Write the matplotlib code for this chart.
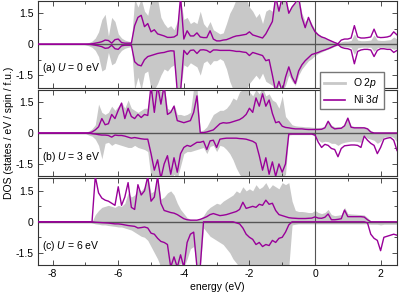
import numpy as np
import matplotlib
matplotlib.use("Agg")
import matplotlib.pyplot as plt
from matplotlib.ticker import MultipleLocator, FuncFormatter
from matplotlib.lines import Line2D

plt.rcParams['font.family'] = ['Liberation Sans', 'DejaVu Sans']
plt.rcParams['font.size'] = 7.5
plt.rcParams['mathtext.fontset'] = 'custom'
plt.rcParams['mathtext.rm'] = 'Liberation Sans'
plt.rcParams['mathtext.it'] = 'Liberation Sans:italic'
plt.rcParams['axes.unicode_minus'] = False

PURPLE = '#990099'
GREY = '#c8c8c8'
DARK = '#555555'

# energy grid (eV), 0.1 eV step
energy = np.round(np.arange(-8.5, 2.55, 0.1), 2)
pad = [0.0] * 15  # -8.5 .. -7.1 eV : no states

# values below start at -7.0 eV, 10 per line (one eV per line)
# (a) U = 0 eV
o2p_up_a = pad + [
    0.03, 0.08, 0.15, 0.3, 0.6, 1.2, 1.45, 0.4, 1.3, 1.1,
    0.5, 0.3, 0.2, 0.15, 0.12, 2.2, 1.8, 2.2, 1.6, 1.4,
    2.2, 2.2, 2.2, 1.3, 1.0, 0.8, 0.9, 0.7, 1.1, 2.2,
    1.2, 1.3, 1.0, 1.1, 1.0, 1.6, 1.0, 0.8, 1.1, 0.7,
    0.6, 0.5, 0.55, 1.0, 1.5, 1.8, 2.2, 2.2, 2.2, 2.2,
    1.8, 1.6, 1.3, 1.5, 1.0, 1.6, 1.7, 1.6, 2.3, 1.7,
    2.3, 2.3, 1.6, 1.9, 2.0, 2.3, 1.5, 1.1, 1.3, 1.0,
    0.7, 0.5, 0.4, 0.32, 0.25, 0.18, 0.1, 0.05, 0.12, 0.15,
    0.15, 0.18, 0.5, 0.2, 0.17, 0.17, 0.18, 0.2, 0.45, 0.2,
    0.18, 0.18, 0.2, 0.22, 0.35, 0.25]
o2p_dn_a = pad + [
    -0.03, -0.08, -0.15, -0.3, -0.6, -1.3, -1.2, -0.4, -1.0, -0.9,
    -0.5, -0.3, -0.2, -0.15, -0.12, -2.2, -1.6, -2.2, -1.4, -1.3,
    -2.2, -2.2, -1.9, -1.5, -1.2, -1.3, -1.1, -1.0, -2.2, -2.2,
    -1.0, -1.1, -0.9, -1.0, -1.1, -1.5, -0.9, -0.8, -1.0, -0.8,
    -0.8, -0.7, -0.8, -1.2, -1.8, -2.2, -2.2, -2.2, -2.2, -2.2,
    -1.9, -1.7, -1.5, -1.7, -1.4, -1.8, -1.9, -2.0, -2.3, -2.0,
    -2.3, -2.0, -1.5, -1.8, -2.0, -1.5, -1.2, -1.0, -0.8, -0.7,
    -0.55, -0.45, -0.38, -0.3, -0.24, -0.18, -0.1, -0.05, -0.1, -0.12,
    -0.13, -0.15, -0.5, -0.18, -0.15, -0.14, -0.15, -0.15, -0.35, -0.17,
    -0.15, -0.15, -0.17, -0.17, -0.25, -0.2]
ni3d_up_a = pad + [
    0, 0, 0.02, 0.05, 0.08, 0.12, 0.2, 0.18, 0.05, 0.22,
    0.25, 0.08, 0.05, 0.05, 0.05, 0.9, 1.3, 1.4, 0.85, 1.0,
    0.6, 0.7, 0.5, 0.45, 0.4, 0.33, 0.33, 0.35, 0.45, 2.3,
    0.25, 0.65, 0.4, 0.4, 0.55, 0.35, 0.32, 0.32, 0.65, 0.25,
    0.16, 0.16, 0.2, 0.22, 0.28, 0.35, 0.4, 0.42, 0.45, 0.48,
    0.6, 0.45, 0.4, 0.35, 0.3, 0.5, 0.8, 1.1, 2.3, 1.6,
    2.3, 2.3, 1.5, 1.8, 2.0, 2.3, 1.3, 0.8, 1.3, 0.9,
    0.6, 0.45, 0.35, 0.3, 0.22, 0.15, 0.08, 0.02, 0.2, 0.25,
    0.25, 0.3, 0.9, 0.35, 0.3, 0.3, 0.32, 0.35, 0.73, 0.35,
    0.32, 0.33, 0.35, 0.4, 0.6, 0.45]
ni3d_dn_a = pad + [
    0, 0, -0.02, -0.05, -0.08, -0.12, -0.2, -0.18, -0.05, -0.22,
    -0.25, -0.08, -0.05, -0.05, -0.05, -0.85, -1.0, -1.05, -0.75, -0.6,
    -0.55, -0.5, -0.45, -0.42, -0.4, -0.35, -0.32, -0.33, -2.3, -2.3,
    -0.3, -0.5, -0.3, -0.28, -0.45, -0.28, -0.27, -0.3, -0.4, -0.28,
    -0.28, -0.3, -0.3, -0.3, -0.3, -0.32, -0.35, -0.35, -0.38, -0.4,
    -0.55, -0.4, -0.45, -0.5, -0.55, -0.8, -0.75, -1.5, -2.3, -1.8,
    -2.3, -1.6, -1.1, -1.6, -1.9, -1.3, -1.0, -0.8, -0.65, -0.5,
    -0.45, -0.4, -0.33, -0.28, -0.22, -0.15, -0.08, -0.02, -0.15, -0.2,
    -0.22, -0.28, -0.95, -0.35, -0.28, -0.25, -0.25, -0.28, -0.6, -0.3,
    -0.22, -0.22, -0.25, -0.25, -0.4, -0.3]

# (b) U = 3 eV
o2p_up_b = pad + [
    0.02, 0.1, 0.2, 0.4, 1.4, 1.0, 0.9, 1.0, 1.3, 1.1,
    1.3, 1.5, 1.2, 1.6, 1.2, 1.1, 1.0, 1.1, 1.2, 1.2,
    2.3, 2.3, 2.3, 2.0, 2.3, 1.2, 1.1, 1.4, 0.9, 0.9,
    0.85, 0.9, 1.0, 2.2, 2.2, 0.1, 0.15, 0.3, 0.6, 0.9,
    1.0, 1.1, 1.1, 1.2, 1.4, 1.7, 1.6, 2.0, 2.1, 2.2,
    2.0, 1.8, 2.1, 1.9, 2.2, 1.8, 1.9, 1.6, 1.5, 1.2,
    1.8, 0.8, 0.6, 0.4, 0.35, 0.33, 0.32, 0.3, 0.3, 0.28,
    0.27, 0.27, 0.28, 0.32, 0.62, 0.38, 0.3, 0.3, 0.3, 0.42,
    0.78, 0.35, 0.32, 0.32, 0.32, 0.3, 0.26, 0.1, 0.05, 0.04,
    0.04, 0.04, 0.04, 0.04, 0.04, 0.04]
o2p_dn_b = pad + [
    -0.02, -0.1, -0.15, -0.3, -0.6, -1.25, -0.5, -0.45, -0.6, -0.5,
    -0.55, -0.6, -0.65, -0.7, -0.7, -0.6, -0.7, -0.75, -0.8, -0.9,
    -2.2, -2.2, -2.2, -2.2, -2.2, -2.2, -2.2, -2.0, -2.2, -1.6,
    -1.0, -0.9, -0.9, -0.85, -0.8, -0.75, -0.7, -1.0, -0.65, -0.6,
    -0.9, -0.6, -0.65, -0.8, -1.0, -1.3, -1.7, -2.0, -2.2, -2.2,
    -2.2, -2.2, -2.2, -2.2, -2.2, -2.2, -2.2, -2.2, -2.2, -2.2,
    -2.2, -2.0, -0.1, -0.08, -0.08, -0.08, -0.08, -0.08, -0.08, -0.08,
    -0.15, -0.35, -0.45, -0.4, -0.42, -0.5, -0.5, -0.6, -0.5, -0.45,
    -0.42, -0.4, -0.4, -0.42, -0.45, -0.12, -0.25, -0.3, -0.35, -0.5,
    -0.4, -0.2, -0.18, -0.15, -0.22, -0.45]
ni3d_up_b = pad + [
    0, 0, 0.05, 0.15, 0.3, 0.7, 0.4, 0.45, 0.9, 0.7,
    1.1, 1.45, 0.7, 1.2, 0.8, 0.7, 0.9, 0.75, 0.9, 0.85,
    2.3, 1.0, 2.3, 1.4, 2.3, 0.9, 1.0, 1.3, 0.6, 0.55,
    0.5, 0.55, 0.6, 1.0, 1.8, 0.02, 0.02, 0.05, 0.1, 0.15,
    0.3, 0.45, 0.5, 0.48, 0.5, 0.55, 0.6, 0.65, 0.75, 0.9,
    1.2, 1.0, 1.7, 1.3, 1.9, 1.3, 1.6, 0.95, 0.5, 0.55,
    0.33, 0.27, 0.25, 0.22, 0.2, 0.2, 0.2, 0.18, 0.17, 0.17,
    0.17, 0.17, 0.18, 0.25, 0.57, 0.3, 0.2, 0.22, 0.23, 0.35,
    0.72, 0.28, 0.25, 0.25, 0.25, 0.25, 0.2, 0.05, 0, 0,
    0, 0, 0, 0, 0, 0]
ni3d_dn_b = pad + [
    0, 0, -0.03, -0.05, -0.08, -0.1, -0.1, -0.12, -0.2, -0.1,
    -0.12, -0.12, -0.15, -0.2, -0.25, -0.22, -0.25, -0.28, -0.3, -0.3,
    -1.0, -1.8, -1.3, -2.2, -1.5, -1.1, -2.0, -1.2, -1.9, -1.0,
    -0.7, -0.6, -0.65, -0.55, -0.45, -0.45, -0.4, -0.8, -0.38, -0.35,
    -0.7, -0.3, -0.27, -0.25, -0.25, -0.25, -0.25, -0.27, -0.28, -0.3,
    -0.35, -0.4, -0.5, -1.1, -1.8, -1.2, -2.0, -1.4, -2.1, -1.5,
    -1.9, -1.5, -0.05, -0.05, -0.05, -0.05, -0.05, -0.05, -0.05, -0.05,
    -0.1, -0.45, -0.7, -0.55, -0.6, -0.75, -0.8, -1.15, -0.75, -0.62,
    -0.6, -0.58, -0.58, -0.6, -0.7, -0.15, -0.35, -0.5, -0.6, -1.0,
    -0.7, -0.3, -0.25, -0.22, -0.35, -0.85]

# (c) U = 6 eV
o2p_up_c = pad + [
    0, 0, 0, 0.35, 0.55, 0.7, 0.75, 0.8, 0.75, 0.7,
    0.8, 0.75, 0.9, 1.4, 1.2, 1.3, 1.6, 1.5, 1.7, 2.2,
    1.4, 1.5, 2.2, 1.1, 1.2, 1.4, 1.5, 1.3, 0.9, 0.6,
    0.4, 0.2, 0.12, 0.1, 0.1, 0.15, 0.3, 0.55, 0.7, 0.8,
    0.9, 0.85, 1.0, 1.1, 1.2, 1.3, 1.5, 1.4, 1.7, 1.5,
    1.6, 1.5, 1.8, 1.6, 1.7, 1.9, 1.6, 1.8, 1.7, 1.6,
    1.9, 1.8, 1.9, 1.0, 0.55, 0.5, 0.5, 0.48, 0.45, 0.45,
    0.55, 0.45, 0.4, 0.45, 0.6, 0.35, 0.3, 0.32, 0.35, 0.7,
    0.4, 0.38, 0.37, 0.36, 0.35, 0.33, 0.2, 0.05, 0.04, 0.04,
    0.04, 0.04, 0.04, 0.04, 0.04, 0.04]
o2p_dn_c = pad + [
    0, 0, -0.05, -0.1, -0.12, -0.15, -0.15, -0.18, -0.2, -0.22,
    -0.25, -0.25, -0.3, -0.35, -0.4, -0.5, -0.6, -0.7, -0.75, -0.9,
    -1.2, -1.5, -1.8, -2.2, -2.2, -2.2, -2.2, -2.2, -2.2, -2.0,
    -2.2, -1.8, -1.3, -1.2, -2.2, -2.2, -0.3, -0.5, -0.7, -0.8,
    -0.9, -1.0, -1.1, -1.3, -1.5, -1.8, -2.0, -2.2, -2.2, -2.2,
    -2.2, -2.2, -2.2, -2.2, -2.2, -2.2, -2.2, -2.2, -2.2, -2.2,
    -2.2, -2.2, -2.2, -0.15, -0.12, -0.1, -0.1, -0.1, -0.1, -0.1,
    -0.1, -0.1, -0.1, -0.1, -0.1, -0.1, -0.1, -0.1, -0.1, -0.1,
    -0.1, -0.1, -0.1, -0.1, -0.1, -0.1, -0.1, -0.12, -0.12, -0.12,
    -0.15, -0.12, -0.12, -0.12, -0.12, -0.12]
ni3d_up_c = pad + [
    0, 0, 0, 2.2, 1.4, 1.15, 1.05, 1.0, 0.9, 0.8,
    1.7, 0.8, 1.2, 1.9, 0.7, 0.6, 1.8, 1.3, 1.5, 2.2,
    1.0, 1.2, 2.2, 0.9, 0.55, 0.5, 0.45, 0.42, 0.35, 0.25,
    0.15, 0.1, 0.08, 0.08, 0.08, 0.12, 0.18, 0.25, 0.35, 0.4,
    0.35, 0.3, 0.32, 0.35, 0.4, 0.45, 0.5, 0.6, 0.95, 0.65,
    0.7, 0.75, 0.7, 0.85, 0.8, 1.05, 0.85, 0.9, 0.55, 0.35,
    0.3, 0.25, 0.2, 0.18, 0.17, 0.16, 0.16, 0.16, 0.17, 0.18,
    0.24, 0.18, 0.17, 0.22, 0.38, 0.1, 0.1, 0.12, 0.15, 0.57,
    0.25, 0.25, 0.25, 0.25, 0.25, 0.23, 0.1, 0, 0, 0,
    0, 0, 0, 0, 0, 0]
ni3d_dn_c = pad + [
    0, 0, 0, -0.02, -0.03, -0.04, -0.05, -0.06, -0.08, -0.1,
    -0.1, -0.12, -0.15, -0.18, -0.2, -0.22, -0.3, -0.28, -0.25, -0.3,
    -0.55, -0.6, -0.8, -0.95, -1.0, -1.1, -2.2, -1.7, -2.2, -1.6,
    -2.2, -1.0, -0.6, -0.5, -2.2, -2.2, 0, 0, 0, 0,
    0, 0, 0, 0, 0, 0, -0.05, -0.1, -0.3, -0.6,
    -0.75, -0.85, -1.1, -1.0, -1.2, -1.1, -1.15, -0.9, -1.0, -0.8,
    -0.75, -0.5, -0.15, 0, 0, 0, 0, 0, 0, 0,
    0, 0, 0, 0, 0, 0, 0, 0, 0, 0,
    0, 0, 0, 0, 0, 0, -0.05, -0.6, -0.8, -0.9,
    -1.4, -0.75, -0.7, -0.65, -0.6, -0.65]

panel_labels = ['(a) $U$ = 0 eV', '(b) $U$ = 3 eV', '(c) $U$ = 6 eV']
panels = [
    (o2p_up_a, o2p_dn_a, ni3d_up_a, ni3d_dn_a),
    (o2p_up_b, o2p_dn_b, ni3d_up_b, ni3d_dn_b),
    (o2p_up_c, o2p_dn_c, ni3d_up_c, ni3d_dn_c),
]


def zero_fmt(v, pos):
    return '0' if abs(v) < 1e-9 else f'{v:g}'


fig, axes = plt.subplots(3, 1, sharex=True, figsize=(3.99, 2.92), dpi=100)
fig.subplots_adjust(left=0.095, right=0.995, top=0.997, bottom=0.092, hspace=0.025)

for ax, label, (o_up, o_dn, d_up, d_dn) in zip(axes, panel_labels, panels):
    ax.fill_between(energy, 0, o_up, color=GREY, lw=0, zorder=1)
    ax.fill_between(energy, 0, o_dn, color=GREY, lw=0, zorder=1)
    ax.axhline(0, color=DARK, lw=1.0, zorder=2)
    ax.axvline(0, color=DARK, lw=0.8, zorder=2)
    ax.plot(energy, d_up, color=PURPLE, lw=1.0, zorder=3)
    ax.plot(energy, d_dn, color=PURPLE, lw=1.0, zorder=3)

    ax.set_xlim(-8.45, 2.5)
    ax.set_ylim(-2.1, 2.1)
    ax.xaxis.set_major_locator(MultipleLocator(2))
    ax.xaxis.set_minor_locator(MultipleLocator(1))
    ax.yaxis.set_major_locator(MultipleLocator(1.5))
    ax.yaxis.set_minor_locator(MultipleLocator(0.75))
    ax.yaxis.set_major_formatter(FuncFormatter(zero_fmt))
    ax.tick_params(which='both', direction='in', top=True, right=True,
                   width=0.6, color='#333333', pad=3)
    ax.tick_params(which='major', length=3.5)
    ax.tick_params(which='minor', length=2)
    for sp in ax.spines.values():
        sp.set_linewidth(0.8)
        sp.set_color('#333333')
    ax.text(0.012, 0.22, label, transform=ax.transAxes, ha='left', va='center')

axes[-1].set_xlabel('energy (eV)', labelpad=2)
fig.text(0.022, 0.545, 'DOS (states / eV / spin / f.u.)', rotation=90,
         ha='center', va='center')

handles = [Line2D([], [], color=GREY, lw=2.0),
           Line2D([], [], color=PURPLE, lw=1.2)]
fig.legend(handles, ['O 2$p$', 'Ni 3$d$'], loc='upper left',
           bbox_to_anchor=(320 / 399, 1 - 72 / 292), frameon=True,
           fancybox=False, edgecolor='#777777', framealpha=1,
           borderaxespad=0, handlelength=2.0, handletextpad=0.8,
           borderpad=0.4, labelspacing=0.3)

fig.savefig('out.png', dpi=100)
